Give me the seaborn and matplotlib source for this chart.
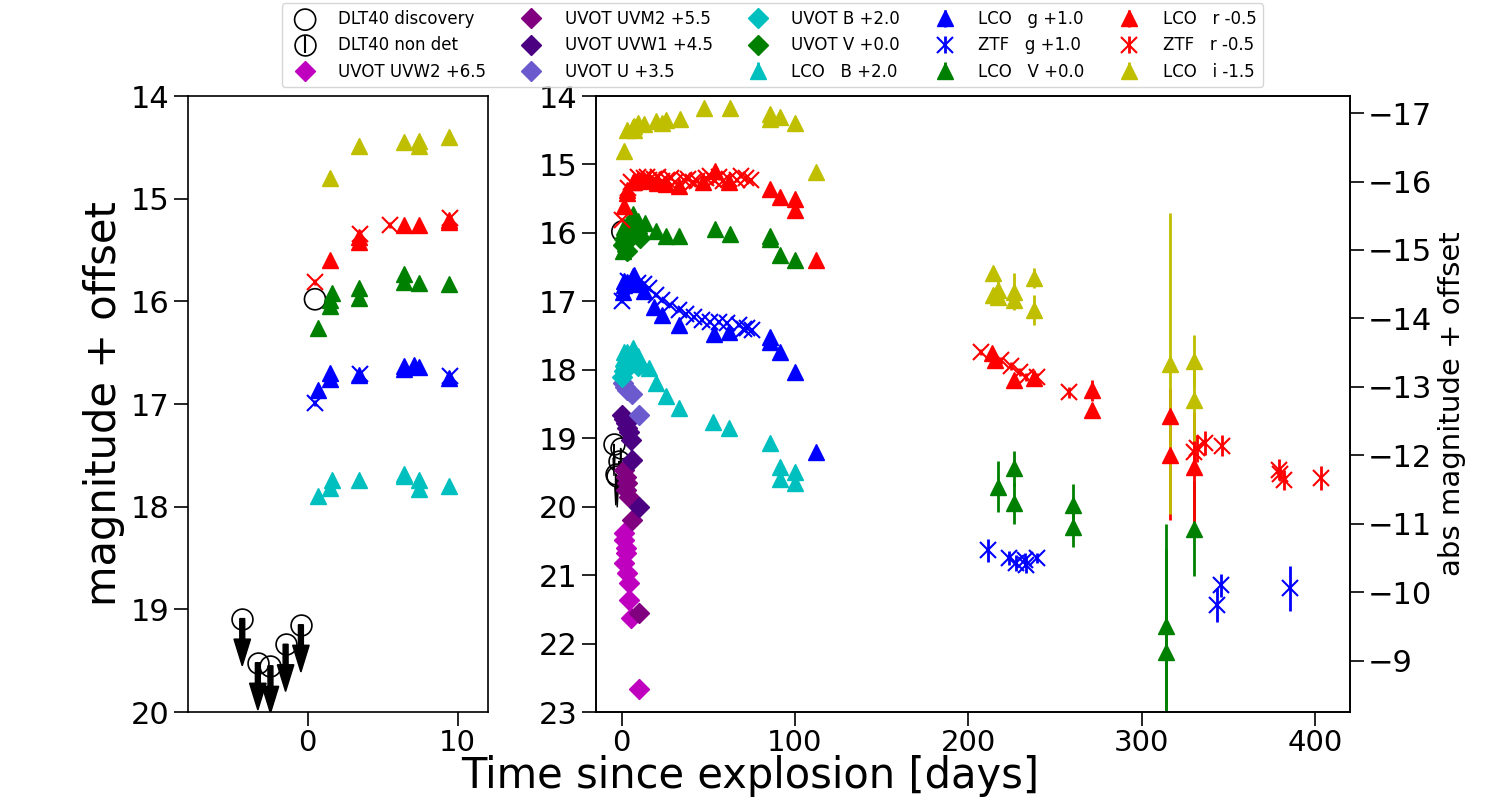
import numpy as np
import matplotlib
matplotlib.use('Agg')
import matplotlib.pyplot as plt
import seaborn as sns

# distance modulus used for the right hand axis
mu = 31.25

# DLT40
dlt_t = [0.5]
dlt_m = [15.98]
nd_t = [-4.35, -3.31, -2.47, -1.46, -0.44]
nd_m = [19.09, 19.52, 19.55, 19.34, 19.15]

# UVOT (plotted values, offsets already in)
uvw2_t = [1.3, 1.3, 2.3, 2.3, 1.3, 3.3, 4.2, 4.2, 5.2, 10.0]
uvw2_m = [20.39, 20.49, 20.61, 20.68, 20.83, 20.97, 21.12, 21.36, 21.63, 22.67]
uvw2_e = [0.05, 0.05, 0.05, 0.05, 0.05, 0.05, 0.05, 0.05, 0.06, 0.12]
uvm2_t = [1.3, 2.3, 2.3, 3.3, 4.2, 6.1, 10.0]
uvm2_m = [19.46, 19.56, 19.76, 19.66, 19.86, 20.19, 21.56]
uvm2_e = [0.05, 0.05, 0.05, 0.05, 0.05, 0.06, 0.08]
uvw1_t = [0.4, 1.3, 2.3, 3.3, 4.2, 5.2, 6.1, 10.0]
uvw1_m = [18.66, 18.72, 18.78, 18.85, 18.91, 19.03, 19.32, 20.01]
uvw1_e = [0.04, 0.04, 0.04, 0.04, 0.04, 0.05, 0.05, 0.06]
uvu_t = [0.9, 2.0, 3.3, 6.1, 10.0]
uvu_m = [18.20, 18.25, 18.30, 18.35, 18.66]
uvu_e = [0.04, 0.04, 0.04, 0.04, 0.05]
uvb_t = [0.5, 1.3, 2.2, 3.2, 4.2, 5.1, 6.2, 7.5, 9.5]
uvb_m = [18.10, 18.02, 17.95, 17.90, 17.85, 17.80, 17.82, 17.88, 17.95]
uvb_e = [0.04, 0.04, 0.04, 0.04, 0.04, 0.04, 0.04, 0.04, 0.04]
uvv_t = [0.9, 1.3, 2.2, 3.3, 4.2, 5.2, 7.1, 9.0, 10.9]
uvv_m = [16.18, 16.09, 16.15, 16.26, 16.05, 15.98, 15.95, 16.00, 16.07]
uvv_e = [0.05, 0.05, 0.05, 0.05, 0.05, 0.05, 0.05, 0.05, 0.05]

# LCO B
lb_t = [0.7, 1.5, 1.6, 3.4, 6.4, 6.4, 7.4, 7.4, 9.4, 15.7, 19.6, 25.4, 33.4, 53.0, 61.7, 85.5, 91.6, 91.6, 99.9, 99.9]
lb_m = [17.90, 17.82, 17.74, 17.74, 17.68, 17.70, 17.74, 17.83, 17.80, 17.98, 18.20, 18.39, 18.56, 18.76, 18.85, 19.07, 19.42, 19.59, 19.49, 19.66]
lb_e = [0.02, 0.02, 0.02, 0.02, 0.02, 0.02, 0.02, 0.02, 0.02, 0.02, 0.02, 0.02, 0.03, 0.03, 0.03, 0.04, 0.05, 0.05, 0.05, 0.06]

# LCO g
lg_t = [0.7, 1.5, 1.5, 3.4, 6.4, 6.4, 7.1, 7.4, 9.4, 13.2, 18.6, 23.4, 33.0, 53.2, 61.9, 85.5, 85.5, 91.6, 99.9, 112.0]
lg_m = [16.86, 16.70, 16.76, 16.72, 16.63, 16.66, 16.62, 16.64, 16.75, 16.85, 17.08, 17.20, 17.35, 17.47, 17.45, 17.52, 17.59, 17.74, 18.03, 19.20]
lg_e = [0.02, 0.02, 0.02, 0.02, 0.02, 0.02, 0.02, 0.02, 0.02, 0.02, 0.02, 0.02, 0.02, 0.03, 0.03, 0.03, 0.03, 0.03, 0.04, 0.05]

# ZTF g
zg_t = [0.5, 3.5, 9.5, 13.1, 15.7, 19.6, 23.4, 28.2, 33.0, 36.9, 41.7, 46.5, 51.3, 56.1, 60.9, 67.6, 70.5, 72.4, 75.0,
        211.1, 223.6, 227.4, 232.8, 233.4, 239.6, 343.3, 345.8, 385.6]
zg_m = [16.99, 16.71, 16.73, 16.74, 16.81, 16.91, 16.98, 17.05, 17.12, 17.18, 17.23, 17.27, 17.30, 17.30, 17.32, 17.35, 17.40, 17.39, 17.42,
        20.64, 20.75, 20.82, 20.78, 20.85, 20.75, 21.44, 21.15, 21.19]
zg_e = [0.03, 0.03, 0.03, 0.03, 0.03, 0.03, 0.03, 0.03, 0.03, 0.03, 0.03, 0.03, 0.03, 0.03, 0.03, 0.03, 0.03, 0.03, 0.03,
        0.17, 0.10, 0.12, 0.10, 0.12, 0.08, 0.25, 0.17, 0.33]

# LCO V
lv_t = [0.7, 1.5, 1.5, 1.6, 3.4, 3.4, 6.4, 6.4, 7.4, 9.4, 13.3, 19.6, 25.4, 33.4, 53.8, 62.3, 85.5, 85.5, 91.6, 99.9,
        216.9, 226.5, 226.5, 260.1, 260.1, 313.7, 313.7, 329.9]
lv_m = [16.26, 16.05, 15.99, 15.92, 15.87, 15.97, 15.73, 15.81, 15.82, 15.83, 15.85, 15.97, 16.04, 16.05, 15.95, 16.01, 16.05, 16.09, 16.33, 16.40,
        19.71, 19.44, 19.95, 19.97, 20.29, 21.75, 22.12, 20.32]
lv_e = [0.02, 0.02, 0.02, 0.02, 0.02, 0.02, 0.02, 0.02, 0.02, 0.02, 0.02, 0.02, 0.02, 0.02, 0.02, 0.02, 0.03, 0.03, 0.03, 0.03,
        0.37, 0.26, 0.30, 0.30, 0.30, 1.50, 1.50, 0.70]

# LCO r
lr_t = [1.5, 3.4, 3.4, 6.4, 7.4, 9.4, 9.4, 13.2, 15.8, 20.6, 25.4, 33.4, 46.9, 53.8, 61.9, 85.5, 91.6, 99.9, 99.9, 112.0,
        213.6, 215.6, 226.5, 237.7, 271.3, 271.3, 316.0, 316.0, 329.9]
lr_m = [15.60, 15.42, 15.37, 15.26, 15.26, 15.21, 15.23, 15.22, 15.24, 15.27, 15.28, 15.32, 15.26, 15.10, 15.26, 15.36, 15.47, 15.51, 15.66, 16.39,
        17.76, 17.86, 18.15, 18.12, 18.30, 18.59, 18.68, 19.25, 19.42]
lr_e = [0.02, 0.02, 0.02, 0.02, 0.02, 0.02, 0.02, 0.02, 0.02, 0.02, 0.02, 0.02, 0.02, 0.02, 0.02, 0.02, 0.02, 0.03, 0.03, 0.03,
        0.05, 0.05, 0.08, 0.10, 0.15, 0.10, 0.40, 0.95, 0.80]

# ZTF r
zr_t = [0.5, 3.5, 5.5, 9.5, 13.0, 14.5, 16.0, 18.5, 21.0, 23.5, 26.0, 28.5, 31.0, 36.0, 38.5, 41.0, 43.5, 48.5, 51.0, 53.5, 56.0, 58.5,
        62.0, 66.5, 69.0, 71.5, 74.5,
        207.3, 218.6, 224.6, 230.0, 233.0, 239.7, 257.8, 330.3, 331.8, 336.6, 346.2, 378.9, 379.5, 381.8, 403.5]
zr_m = [15.81, 15.34, 15.26, 15.19, 15.20, 15.18, 15.22, 15.21, 15.19, 15.24, 15.22, 15.20, 15.25, 15.23, 15.21, 15.26, 15.24, 15.20, 15.17, 15.22, 15.19, 15.24,
        15.21, 15.23, 15.17, 15.20, 15.23,
        17.74, 17.86, 17.94, 18.03, 18.10, 18.10, 18.33, 19.20, 19.15, 19.07, 19.11, 19.46, 19.53, 19.61, 19.58]
zr_e = [0.03, 0.03, 0.03, 0.03, 0.03, 0.03, 0.03, 0.03, 0.03, 0.03, 0.03, 0.03, 0.03, 0.03, 0.03, 0.03, 0.03, 0.03, 0.03, 0.03, 0.03, 0.03,
        0.03, 0.03, 0.03, 0.03, 0.03,
        0.05, 0.05, 0.06, 0.06, 0.06, 0.06, 0.08, 0.30, 0.20, 0.17, 0.15, 0.15, 0.10, 0.15, 0.17]

# LCO i
li_t = [1.5, 3.4, 6.4, 7.4, 7.4, 9.4, 13.0, 19.6, 23.4, 25.4, 34.0, 47.5, 62.3, 85.5, 85.5, 91.6, 99.9, 112.0,
        214.0, 214.0, 216.9, 216.9, 226.5, 226.5, 237.7, 237.7, 316.0, 329.9, 329.9]
li_m = [14.80, 14.49, 14.45, 14.44, 14.49, 14.40, 14.41, 14.37, 14.39, 14.35, 14.33, 14.17, 14.17, 14.27, 14.34, 14.30, 14.40, 15.11,
        16.59, 16.91, 16.84, 16.93, 16.86, 16.98, 16.66, 17.13, 17.91, 17.87, 18.44]
li_e = [0.02, 0.02, 0.02, 0.02, 0.02, 0.02, 0.02, 0.02, 0.02, 0.02, 0.02, 0.02, 0.02, 0.02, 0.02, 0.02, 0.02, 0.03,
        0.09, 0.09, 0.18, 0.10, 0.27, 0.10, 0.15, 0.22, 2.20, 0.38, 0.60]

uvot = [(uvw2_t, uvw2_m, uvw2_e, 'm', 'UVOT UVW2 +6.5'),
        (uvm2_t, uvm2_m, uvm2_e, 'purple', 'UVOT UVM2 +5.5'),
        (uvw1_t, uvw1_m, uvw1_e, 'indigo', 'UVOT UVW1 +4.5'),
        (uvu_t, uvu_m, uvu_e, 'slateblue', 'UVOT U +3.5'),
        (uvb_t, uvb_m, uvb_e, 'c', 'UVOT B +2.0'),
        (uvv_t, uvv_m, uvv_e, 'g', 'UVOT V +0.0')]
ground = [(lb_t, lb_m, lb_e, 'c', '^', 'LCO   B +2.0'),
          (lg_t, lg_m, lg_e, 'b', '^', 'LCO   g +1.0'),
          (zg_t, zg_m, zg_e, 'b', 'x', 'ZTF   g +1.0'),
          (lv_t, lv_m, lv_e, 'g', '^', 'LCO   V +0.0'),
          (lr_t, lr_m, lr_e, 'r', '^', 'LCO   r -0.5'),
          (zr_t, zr_m, zr_e, 'r', 'x', 'ZTF   r -0.5'),
          (li_t, li_m, li_e, 'y', '^', 'LCO   i -1.5')]

sns.set_style('ticks', {'axes.edgecolor': 'black', 'xtick.color': 'black', 'ytick.color': 'black',
                        'text.color': 'black', 'axes.labelcolor': 'black'})
plt.rcParams['font.family'] = ['DejaVu Sans']

fig = plt.figure(figsize=(15, 8), dpi=100)
ax1 = fig.add_axes([0.125, 0.11, 0.2, 0.77])
ax2 = fig.add_axes([0.397, 0.11, 0.503, 0.77])


def draw(ax, with_uvot, lab):
    sns.scatterplot(x=dlt_t, y=dlt_m, ax=ax, marker='o', s=230, facecolor='none',
                    edgecolor='k', linewidth=1.2, label='DLT40 discovery' if lab else None, legend=False)
    ax.errorbar(nd_t, nd_m, yerr=np.zeros(len(nd_t)), fmt='o', ms=15, mfc='none', mec='k', mew=1.2,
                ecolor='k', elinewidth=1.5, label='DLT40 non det' if lab else None)
    for t, m in zip(nd_t, nd_m):
        ax.arrow(t, m, 0, 0.46, width=0.33, head_width=1.1, head_length=0.26,
                 length_includes_head=True, color='k')
    if with_uvot:
        for t, m, e, c, l in uvot:
            ax.errorbar(t, m, yerr=e, fmt='D', ms=10, color=c, ecolor=c, elinewidth=2,
                        label=l if lab else None)
    for t, m, e, c, mk, l in ground:
        if mk == 'x':
            ax.errorbar(t, m, yerr=e, fmt='x', ms=11, mew=1.5, color=c, ecolor=c, elinewidth=2,
                        label=l if lab else None)
        else:
            ax.errorbar(t, m, yerr=e, fmt='^', ms=11, color=c, ecolor=c, elinewidth=2,
                        label=l if lab else None)


draw(ax1, False, False)
draw(ax2, True, True)

ax1.set_xlim(-8, 12)
ax1.set_ylim(20, 14)
ax1.set_xticks([0, 10])
ax1.set_yticks([14, 15, 16, 17, 18, 19, 20])
ax1.set_ylabel('magnitude + offset', fontsize=30)

ax2.set_xlim(-15, 420)
ax2.set_ylim(23, 14)
ax2.set_xticks([0, 100, 200, 300, 400])
ax2.set_yticks(np.arange(14, 24))

ax3 = ax2.twinx()
ax3.set_ylim(23 - mu, 14 - mu)
ax3.set_yticks(np.arange(-17, -8))
ax3.set_ylabel('abs magnitude + offset', fontsize=21)

for ax in (ax1, ax2, ax3):
    ax.tick_params(labelsize=22, direction='out', length=10, width=1.2, pad=3)
    ax.tick_params(axis='x', labelsize=21, pad=2)
    for sp in ax.spines.values():
        sp.set_visible(True)
        sp.set_color('black')
        sp.set_linewidth(1.2)

fig.text(0.5, 0.03, 'Time since explosion [days]', fontsize=30, ha='center', va='center')

h, l = ax2.get_legend_handles_labels()
fig.legend(h, l, loc='upper center', bbox_to_anchor=(0.515, 1.0), ncol=5, fontsize=12,
           borderaxespad=0.2, handletextpad=1.0, columnspacing=1.7)

fig.savefig('out.png', dpi=100)
